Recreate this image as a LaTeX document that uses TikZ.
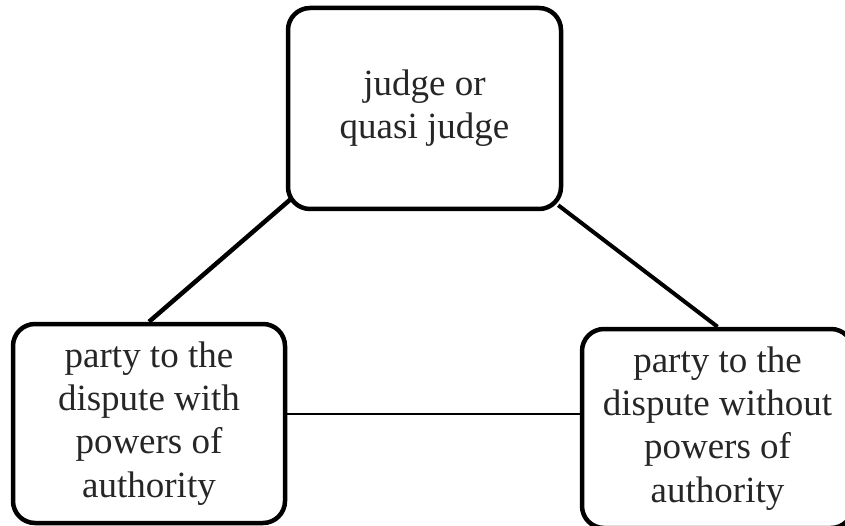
\documentclass[tikz,border=0pt]{standalone}
\usepackage{fontspec}
\setmainfont{Liberation Serif}
\usetikzlibrary{calc}
\begin{document}
\begin{tikzpicture}[x=1pt,y=-1pt,
  box/.style={draw, line width=4.5pt, rounded corners=22pt, inner sep=0pt,
    align=center, font=\fontsize{37}{43.3}\selectfont, text=black!85},
  link/.style={line width=4.5pt}]
\useasboundingbox (0,0) rectangle (845,526);
\node[box, minimum width=273pt, minimum height=201pt] (top) at (424.5,108.5) {judge or\\quasi judge};
\node[box, minimum width=272pt, minimum height=199pt] (left) at (149,423.5) {party to the\\dispute with\\powers of\\authority};
\node[box, minimum width=271pt, minimum height=199pt] (right) at (717.5,428.5) {party to the\\dispute without\\powers of\\authority};
\draw[link] ($(top.south west)+(6,-13)$) -- (left.north);
\draw[link, line width=4pt] ($(top.south east)+(-5,-6)$) -- (right.north);
\draw[line width=2pt] ($(left.east)+(0,-10)$) coordinate (m) -- (m -| right.west);
\end{tikzpicture}
\end{document}
